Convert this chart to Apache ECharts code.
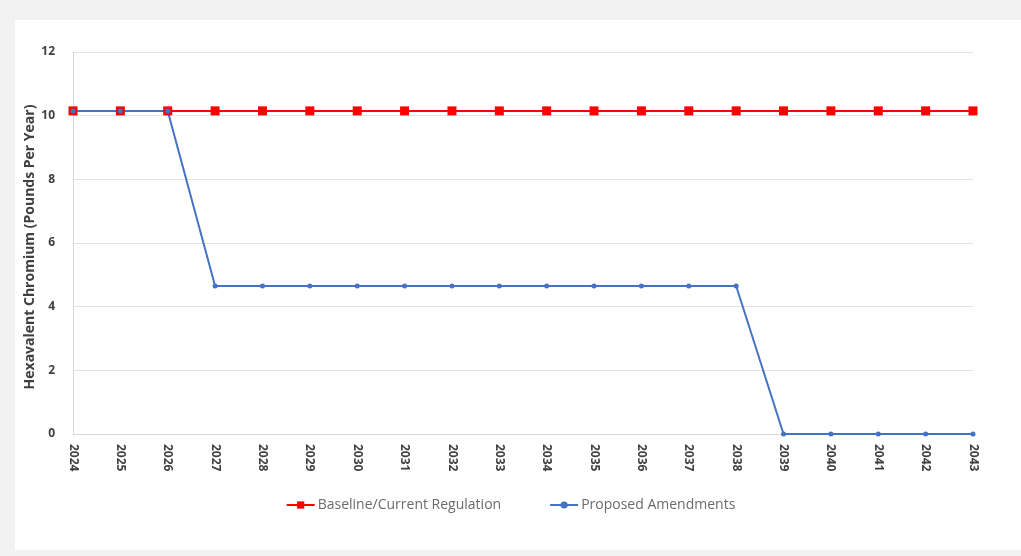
<!DOCTYPE html>
<html>
<head>
<meta charset="utf-8">
<script src="https://cdn.jsdelivr.net/npm/echarts@6/dist/echarts.min.js"></script>
<style>
  html, body { margin: 0; padding: 0; background: #f2f2f2; }
  #frame { position: absolute; left: 15px; top: 20px; width: 1006px; height: 530px; background: #ffffff; }
  #chart { position: absolute; left: 0; top: 0; width: 1021px; height: 556px; }
</style>
</head>
<body>
<div id="frame"></div>
<div id="chart"></div>
<script>
// Annual hexavalent chromium emissions, pounds per year
const years = ['2024','2025','2026','2027','2028','2029','2030','2031','2032','2033',
               '2034','2035','2036','2037','2038','2039','2040','2041','2042','2043'];
const baseline = [10.15,10.15,10.15,10.15,10.15,10.15,10.15,10.15,10.15,10.15,
                  10.15,10.15,10.15,10.15,10.15,10.15,10.15,10.15,10.15,10.15];
const proposed = [10.15,10.15,10.15,4.65,4.65,4.65,4.65,4.65,4.65,4.65,
                  4.65,4.65,4.65,4.65,4.65,0,0,0,0,0];
const yTicks = { min: 0, max: 12, interval: 2 };

const chart = echarts.init(document.getElementById('chart'), null, { renderer: 'canvas' });
chart.setOption({
  backgroundColor: 'transparent',
  animation: false,
  grid: { left: 73, right: 48, top: 52, bottom: 122 },
  legend: {
    bottom: 39,
    left: 'center',
    itemGap: 48,
    itemWidth: 28,
    itemHeight: 9,
    textStyle: { color: '#6b6b6b', fontSize: 14, fontFamily: 'Open Sans', padding: [0, 0, 0, -2] },
    data: ['Baseline/Current Regulation', 'Proposed Amendments']
  },
  xAxis: {
    type: 'category',
    data: years,
    boundaryGap: false,
    axisLine: { lineStyle: { color: '#d9d9d9', width: 1 } },
    axisTick: { show: false },
    axisLabel: {
      rotate: -90,
      margin: 10,
      color: '#404040',
      fontWeight: 'bold',
      fontSize: 12,
      fontFamily: 'Open Sans'
    }
  },
  yAxis: {
    type: 'value',
    min: yTicks.min,
    max: yTicks.max,
    interval: yTicks.interval,
    name: 'Hexavalent Chromium (Pounds Per Year)',
    nameLocation: 'middle',
    nameMoveOverlap: false,
    nameGap: 36,
    nameTextStyle: { color: '#404040', fontWeight: 'bold', fontSize: 14, fontFamily: 'Open Sans', padding: [0, 8, 0, 0] },
    axisLine: { show: true, lineStyle: { color: '#d9d9d9' } },
    axisTick: { show: false },
    axisLabel: { color: '#404040', fontWeight: 'bold', fontSize: 12, margin: 18, fontFamily: 'Open Sans' },
    splitLine: { lineStyle: { color: '#dde4ee', width: 1 } }
  },
  series: [
    {
      name: 'Baseline/Current Regulation',
      type: 'line',
      data: baseline,
      symbol: 'rect',
      symbolSize: 9,
      showAllSymbol: true,
      itemStyle: { color: '#ff0000' },
      lineStyle: { color: '#ff0000', width: 2 }
    },
    {
      name: 'Proposed Amendments',
      type: 'line',
      data: proposed,
      symbol: 'circle',
      symbolSize: 5,
      showAllSymbol: true,
      itemStyle: { color: '#4472c4' },
      lineStyle: { color: '#4472c4', width: 2 }
    }
  ]
});
</script>
</body>
</html>
